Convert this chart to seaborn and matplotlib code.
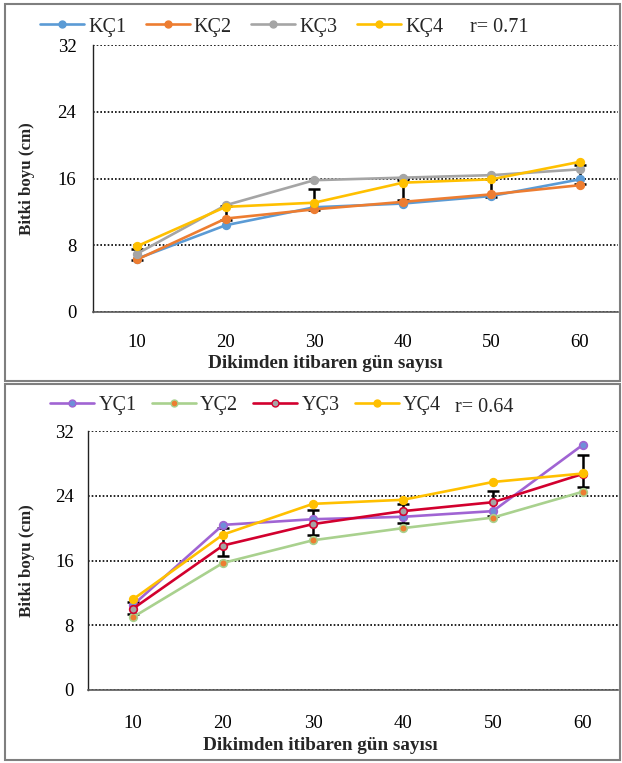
import numpy as np
import pandas as pd
import matplotlib
matplotlib.use("Agg")
import matplotlib.pyplot as plt
import seaborn as sns
from matplotlib.patches import Rectangle
from matplotlib.lines import Line2D

# Данные
days = [10, 20, 30, 40, 50, 60]

kc_names = ["KÇ1", "KÇ2", "KÇ3", "KÇ4"]
kc1 = [6.4, 10.4, 12.55, 13.0, 13.9, 15.9]
kc2 = [6.3, 11.2, 12.3, 13.2, 14.1, 15.2]
kc3 = [7.0, 12.8, 15.8, 16.1, 16.4, 17.1]
kc4 = [7.9, 12.6, 13.1, 15.5, 15.9, 18.0]
kc_err_low = [6.2, 11.0, 12.2, 13.4, 13.8, 15.4]
kc_err_high = [7.5, 12.7, 14.7, 15.8, 16.0, 17.6]
kc_r = "r= 0.71"

yc_names = ["YÇ1", "YÇ2", "YÇ3", "YÇ4"]
yc1 = [10.5, 20.4, 21.1, 21.4, 22.1, 30.3]
yc2 = [9.0, 15.7, 18.5, 20.0, 21.3, 24.5]
yc3 = [10.05, 17.85, 20.5, 22.1, 23.2, 26.7]
yc4 = [11.2, 19.2, 23.0, 23.5, 25.7, 26.75]
yc_err_low = [9.4, 16.6, 19.2, 20.6, 21.45, 25.1]
yc_err_high = [10.9, 20.0, 22.3, 23.0, 24.6, 29.0]
yc_r = "r= 0.64"

y_ticks = [0, 8, 16, 24, 32]
x_label = "Dikimden itibaren gün sayısı"
y_label = "Bitki boyu (cm)"

# Стили
kc_colors = ["#5B9BD5", "#ED7D31", "#A5A5A5", "#FFC000"]
kc_faces = ["#5B9BD5", "#ED7D31", "#A5A5A5", "#FFC000"]
yc_colors = ["#A064D3", "#A9D18E", "#D2002E", "#FFC000"]
yc_faces = ["#6E8FD8", "#ED7D31", "#A5A5A5", "#FFC000"]

sns.set_theme(style="white")
plt.rcParams["font.family"] = ["Liberation Serif", "DejaVu Serif"]

fig = plt.figure(figsize=(6.22, 7.63), dpi=100)
W, H = 622, 763


def draw_panel(px, xlim, series, names, colors, faces, err_low, err_high,
               r_text, leg, r_pos, ypad, xpad, xlab_pos):
    left, top, right, bottom = px
    leg_x, leg_y, colspace = leg
    ax = fig.add_axes([left / W, 1 - bottom / H, (right - left) / W, (bottom - top) / H])
    df = pd.DataFrame({"day": days})
    # планки погрешностей
    low = np.array(err_low)
    high = np.array(err_high)
    mid = (low + high) / 2
    ax.errorbar(days, mid, yerr=(high - low) / 2, fmt="none", ecolor="black",
                elinewidth=1.8, capsize=4, capthick=1.8, zorder=2)
    for vals, name, c, fc in zip(series, names, colors, faces):
        df[name] = vals
        sns.lineplot(data=df, x="day", y=name, ax=ax, color=c, marker="o",
                     markersize=5.5, markerfacecolor=fc, markeredgecolor=c,
                     markeredgewidth=1.2, linewidth=1.9, zorder=3)
    ax.set_xlim(*xlim)
    ax.set_ylim(0, 32)
    ax.set_yticks(y_ticks)
    ax.set_xticks(days)
    ax.yaxis.grid(True, color="black", linestyle=(0, (1, 1.2)), linewidth=1.2)
    ax.xaxis.grid(False)
    ax.set_axisbelow(True)
    for s in ["top", "right"]:
        ax.spines[s].set_visible(False)
    ax.spines["left"].set_color("#222222")
    ax.spines["left"].set_linewidth(1.0)
    ax.spines["bottom"].set_color("#595959")
    ax.spines["bottom"].set_linewidth(1.2)
    ax.tick_params(axis="both", length=0, labelsize=13.5, colors="black")
    ax.tick_params(axis="y", pad=ypad)
    ax.tick_params(axis="x", pad=xpad)
    ax.set_xlabel("")
    ax.set_ylabel("")
    fig.text(27 / W, 1 - ((top + bottom) / 2) / H, y_label, rotation=90,
             ha="center", va="center", fontsize=12.2, fontweight="bold")
    fig.text(xlab_pos[0] / W, 1 - xlab_pos[1] / H, x_label, ha="center",
             va="center", fontsize=13.8, fontweight="bold")
    # легенда
    handles = [Line2D([], [], color=c, marker="o", markersize=5,
                      markerfacecolor=fc, markeredgecolor=c, linewidth=1.9)
               for c, fc in zip(colors, faces)]
    fig.legend(handles, names, loc="center left",
               bbox_to_anchor=(leg_x / W, 1 - leg_y / H), ncol=4,
               frameon=False, fontsize=14.5, handlelength=2.2,
               handletextpad=0.2, columnspacing=colspace, borderaxespad=0,
               borderpad=0)
    fig.text(r_pos[0] / W, 1 - r_pos[1] / H, r_text, ha="left", va="center",
             fontsize=14.5)
    return ax


# верхняя панель
draw_panel((93, 45, 618, 312), (5, 64.3),
           [kc1, kc2, kc3, kc4], kc_names, kc_colors, kc_faces,
           kc_err_low, kc_err_high, kc_r, (40, 27, 0.95), (470, 27),
           12, 16, (325, 364))

# нижняя панель
draw_panel((88, 431, 618, 690), (5, 63.9),
           [yc1, yc2, yc3, yc4], yc_names, yc_colors, yc_faces,
           yc_err_low, yc_err_high, yc_r, (50, 405, 0.75), (455, 408),
           10, 18, (320, 745))

# рамки областей диаграмм
fig.add_artist(Rectangle((5 / W, 1 - 381 / H), 615 / W, 377 / H,
                         transform=fig.transFigure, fill=False,
                         edgecolor="#7F7F7F", linewidth=1.5))
fig.add_artist(Rectangle((5 / W, 1 - 760 / H), 615 / W, 376 / H,
                         transform=fig.transFigure, fill=False,
                         edgecolor="#7F7F7F", linewidth=1.5))

fig.savefig("out.png", dpi=100)
